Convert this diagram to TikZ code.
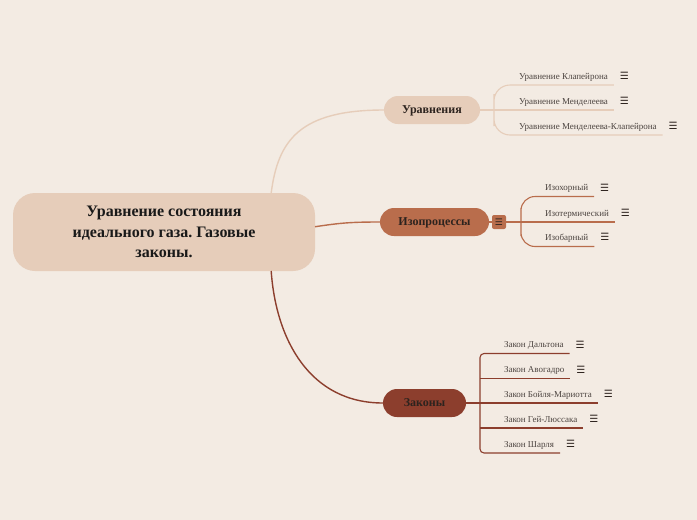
\documentclass[tikz,border=0pt]{standalone}
\usepackage{fontspec}
\setmainfont{Liberation Serif}
\newfontfamily\iconfont{DejaVu Sans}
\usepackage{tikz}
\usetikzlibrary{positioning}
\definecolor{background}{RGB}{243,235,227}
\definecolor{sand}{RGB}{230,205,186}
\definecolor{rust}{RGB}{185,109,76}
\definecolor{brick}{RGB}{140,62,45}
\definecolor{ink}{RGB}{45,35,30}

\begin{document}
\begin{tikzpicture}[x=1pt,y=-1pt,
    every node/.style={inner sep=0pt,outer sep=0pt},
    root/.style={fill=sand,rounded corners=22pt,minimum width=302pt,minimum height=78pt,
        align=center,text=black!90,font=\bfseries\fontsize{16}{20.5}\selectfont},
    topic/.style={rounded corners=14pt,minimum height=28pt,text depth=0pt,text=ink,
        font=\bfseries\fontsize{12}{14}\selectfont},
    leaf/.style={anchor=base west,inner xsep=6pt,inner ysep=6pt,text depth=0pt,
        text=ink!85,font=\fontsize{9}{11}\selectfont},
    menu/.style={text=ink,font=\iconfont\fontsize{10}{10}\selectfont},
    link/.style={line width=1.4pt},
    sub/.style={line width=1.1pt}]
	\useasboundingbox (0,0) rectangle (697,520);
	\fill[background] (0,0) rectangle (697,520);

	\node[root] (root) at (164,232) {Уравнение\ состояния\\идеального\ газа.\ Газовые\\законы.};
	\node[topic,fill=sand,minimum width=96pt] (eq) at (432,110) {Уравнения};
	\node[topic,fill=rust,minimum width=109pt] (iso) at (434.5,222) {Изопроцессы};
	\node[topic,fill=brick,minimum width=83pt] (law) at (424.5,403) {Законы};
	\node[fill=rust,rounded corners=2pt,minimum size=14pt,text=ink,
	      font=\iconfont\fontsize{9}{9}\selectfont] (isom) at (499,222) {☰};

	% Уравнения
	\node[leaf] (eq1) at (513,79) {Уравнение Клапейрона};
	\node[leaf] (eq2) at (513,104) {Уравнение Менделеева};
	\node[leaf] (eq3) at (513,129) {Уравнение Менделеева-Клапейрона};
	\node[menu,right=6pt of eq1] {☰};
	\node[menu,right=6pt of eq2] {☰};
	\node[menu,right=6pt of eq3] {☰};
	\coordinate (eqj) at (494,110);

	% Изопроцессы
	\node[leaf] (iso1) at (539,190.5) {Изохорный};
	\node[leaf] (iso2) at (539,216) {Изотермический};
	\node[leaf] (iso3) at (539,240.5) {Изобарный};
	\node[menu,right=6pt of iso1] {☰};
	\node[menu,right=6pt of iso2] {☰};
	\node[menu,right=6pt of iso3] {☰};
	\coordinate (isoj) at (521,222);

	% Законы
	\node[leaf] (law1) at (498,347.5) {Закон Дальтона};
	\node[leaf] (law2) at (498,372.5) {Закон Авогадро};
	\node[leaf] (law3) at (498,397) {Закон Бойля-Мариотта};
	\node[leaf] (law4) at (498,422) {Закон Гей-Люссака};
	\node[leaf] (law5) at (498,447) {Закон Шарля};
	\node[menu,right=6pt of law1] {☰};
	\node[menu,right=6pt of law2] {☰};
	\node[menu,right=6pt of law3] {☰};
	\node[menu,right=6pt of law4] {☰};
	\node[menu,right=6pt of law5] {☰};
	\coordinate (lawj) at (480,403);

	\draw[link,sand] (root.20) .. controls (278,140) and (300,110) .. (eq.west);
	\draw[link,rust] (root.2) .. controls (340,223) and (350,222) .. (iso.west);
	\draw[link,brick] (root.-20) .. controls (276,340) and (310,403) .. (law.west);

	\draw[sub,sand] (eq.east) -- (eq2.south east);
	\draw[sub,sand,rounded corners=16pt] (eq1.south east) -| (eqj) |- (eq3.south east);

	\draw[sub,rust] (iso.east) -- (isom.west);
	\draw[sub,rust] (isom.east) -- (iso2.south east);
	\draw[sub,rust,rounded corners=14pt] (iso1.south east) -| (isoj) |- (iso3.south east);

	\draw[sub,brick] (law.east) -- (law3.south east);
	\draw[sub,brick,rounded corners=4pt] (law1.south east) -| (lawj) |- (law5.south east);
	\draw[sub,brick] (lawj |- law2.south east) -- (law2.south east);
	\draw[sub,brick] (lawj |- law4.south east) -- (law4.south east);
\end{tikzpicture}
\end{document}
